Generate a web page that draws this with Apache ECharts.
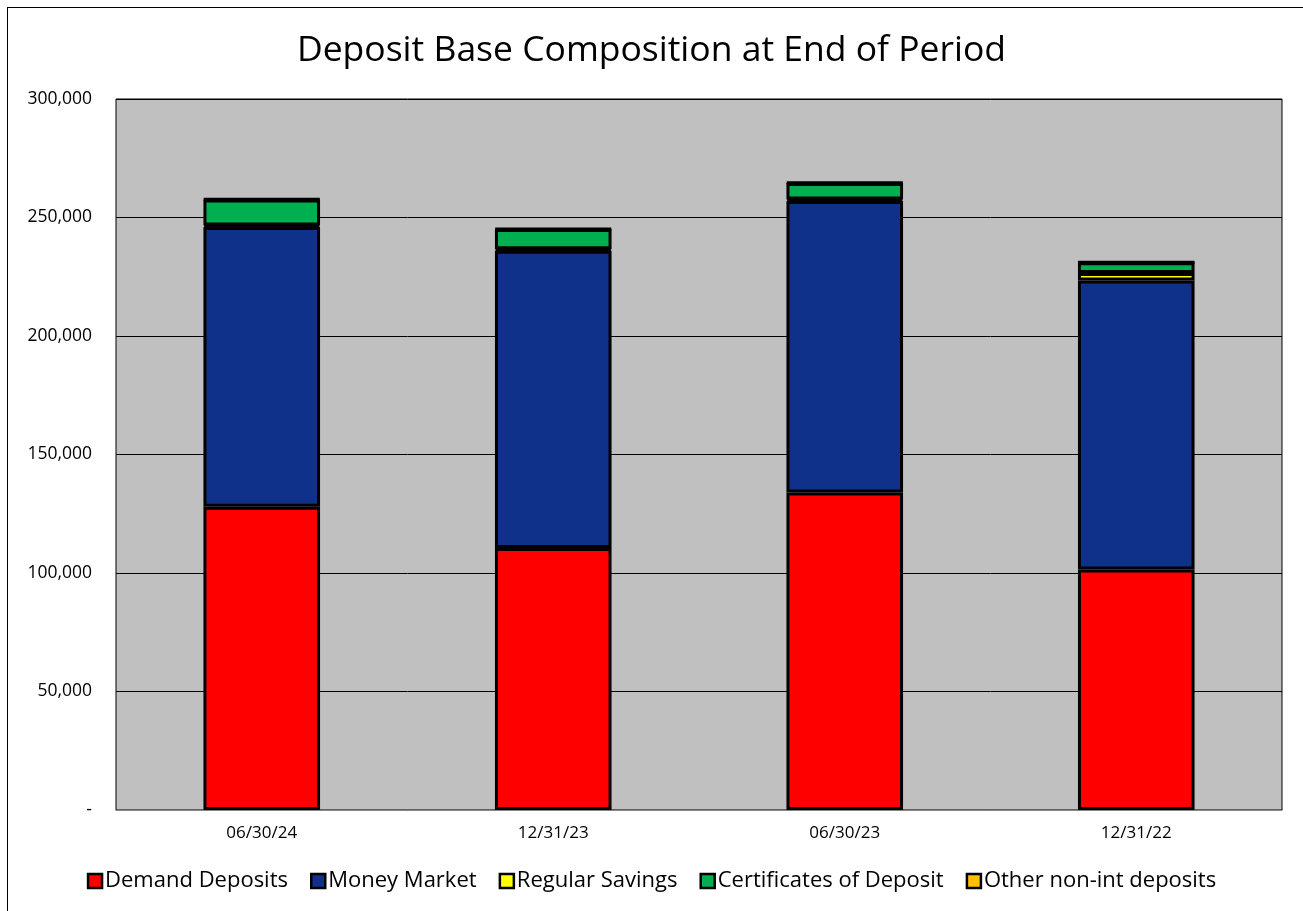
<!DOCTYPE html>
<html>
<head>
<meta charset="utf-8">
<script src="https://cdn.jsdelivr.net/npm/echarts@6/dist/echarts.min.js"></script>
<style>
  html, body { margin: 0; padding: 0; overflow: hidden; background: #fff; }
  #frame { position: absolute; left: 7px; top: 7px; width: 1400px; height: 1000px; border-left: 1px solid #000; border-top: 1px solid #000; }
  #chart { position: absolute; left: 0; top: 0; width: 1303px; height: 911px; }
</style>
</head>
<body>
<div id="frame"></div>
<div id="chart"></div>
<script>
const categories = ['06/30/24', '12/31/23', '06/30/23', '12/31/22'];
const demandDeposits = [128000, 110500, 134000, 101500];
const moneyMarket = [118000, 125500, 123000, 121900];
const regularSavings = [600, 600, 600, 3200];
const certificatesOfDeposit = [11000, 8500, 7000, 4500];
const otherNonInt = [200, 200, 200, 0];
const seriesNames = ['Demand Deposits', 'Money Market', 'Regular Savings', 'Certificates of Deposit', 'Other non-int deposits'];
const seriesColors = ['#FF0000', '#10318A', '#FFFF00', '#00B050', '#FFC000'];
const seriesData = [demandDeposits, moneyMarket, regularSavings, certificatesOfDeposit, otherNonInt];

const font = '"Open Sans", "Noto Sans", sans-serif';
const chart = echarts.init(document.getElementById('chart'), null, { renderer: 'canvas' });
chart.setOption({
  animation: false,
  backgroundColor: 'transparent',
  title: {
    text: 'Deposit Base Composition at End of Period',
    left: 'center',
    top: 28,
    textStyle: { fontFamily: font, fontSize: 35.5, fontWeight: 'normal', color: '#000' }
  },
  legend: {
    data: seriesNames,
    bottom: 14,
    left: 'center',
    icon: 'rect',
    itemWidth: 14,
    itemHeight: 14,
    itemGap: 22,
    itemStyle: { borderColor: '#000', borderWidth: 2.5 },
    textStyle: { fontFamily: font, fontSize: 22, color: '#000', padding: [0, 0, 0, -2] }
  },
  grid: {
    left: 116, right: 21, top: 99, bottom: 101,
    show: true, backgroundColor: '#C0C0C0', borderColor: '#000', borderWidth: 1
  },
  xAxis: {
    type: 'category',
    data: categories,
    axisLine: { show: true, lineStyle: { color: '#888', width: 1 } },
    axisTick: { show: false },
    axisLabel: { fontFamily: font, fontSize: 17, color: '#000', margin: 15 }
  },
  yAxis: {
    type: 'value',
    min: 0, max: 300000, interval: 50000,
    axisLine: { show: false },
    axisTick: { show: false },
    splitLine: { show: true, lineStyle: { color: '#000', width: 1 } },
    axisLabel: {
      fontFamily: font, fontSize: 17.5, color: '#000', margin: 24,
      formatter: v => v === 0 ? '-' : v.toLocaleString('en-US')
    }
  },
  series: seriesNames.map((name, i) => ({
    name,
    type: 'bar',
    stack: 'total',
    data: seriesData[i],
    barWidth: '40%',
    itemStyle: { color: seriesColors[i], borderColor: '#000', borderWidth: 3 }
  }))
});
</script>
</body>
</html>
